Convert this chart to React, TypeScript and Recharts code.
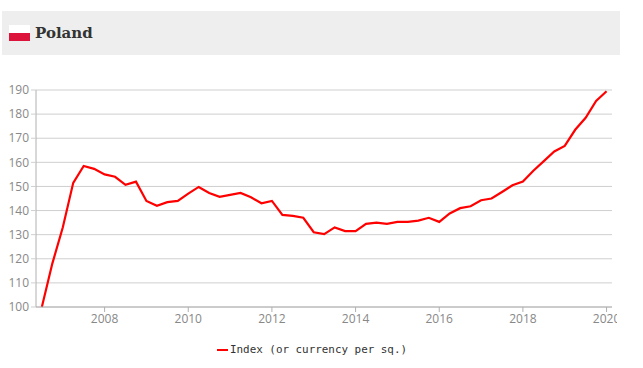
import { LineChart, Line, XAxis, YAxis, CartesianGrid, Legend } from 'recharts'

const seriesName = 'Index (or currency per sq.)'

// quarterly, 2006.5 to 2020.0
const quarters = [
  2006.5, 2006.75,
  2007, 2007.25, 2007.5, 2007.75,
  2008, 2008.25, 2008.5, 2008.75,
  2009, 2009.25, 2009.5, 2009.75,
  2010, 2010.25, 2010.5, 2010.75,
  2011, 2011.25, 2011.5, 2011.75,
  2012, 2012.25, 2012.5, 2012.75,
  2013, 2013.25, 2013.5, 2013.75,
  2014, 2014.25, 2014.5, 2014.75,
  2015, 2015.25, 2015.5, 2015.75,
  2016, 2016.25, 2016.5, 2016.75,
  2017, 2017.25, 2017.5, 2017.75,
  2018, 2018.25, 2018.5, 2018.75,
  2019, 2019.25, 2019.5, 2019.75,
  2020,
]

const indexValues = [
  100, 118,
  133, 151.5, 158.5, 157.3,
  155, 154, 150.7, 152,
  144, 142, 143.5, 144,
  147, 149.8, 147.3, 145.7,
  146.5, 147.3, 145.5, 143,
  144, 138.2, 137.8, 137,
  131, 130.2, 133, 131.5,
  131.5, 134.5, 135, 134.5,
  135.3, 135.3, 135.8, 137,
  135.3, 138.8, 141, 141.8,
  144.3, 145, 147.7, 150.5,
  152, 156.5, 160.5, 164.5,
  166.8, 173.5, 178.5, 185.5,
  189.5,
]

const xTicks = [2008, 2010, 2012, 2014, 2016, 2018, 2020]
const yTicks = [100, 110, 120, 130, 140, 150, 160, 170, 180, 190]

const data = quarters.map((t, i) => ({ t, index: indexValues[i] }))

const tickStyle = { fill: '#888', fontSize: 12, fontFamily: 'Open Sans' }

function LegendRow() {
  return (
    <div style={{ display: 'flex', alignItems: 'center', whiteSpace: 'nowrap' }}>
      <span style={{ width: 11, height: 2, background: '#ff0000', display: 'inline-block', marginRight: 2 }} />
      <span style={{ fontFamily: 'DejaVu Sans Mono', fontSize: 10.9, color: '#333' }}>{seriesName}</span>
    </div>
  )
}

export default function App() {
  return (
    <div style={{ position: 'absolute', left: 0, top: 0, width: 643, height: 368, background: '#fff' }}>
      <div style={{ position: 'absolute', left: 2, top: 11, width: 618, height: 44, background: '#eeeeee' }} />
      <div style={{ position: 'absolute', left: 9, top: 25, width: 21, height: 8, background: '#ffffff' }} />
      <div style={{ position: 'absolute', left: 9, top: 33, width: 21, height: 8, background: '#dc143c' }} />
      <div style={{ position: 'absolute', left: 35, top: 24, fontFamily: 'DejaVu Serif', fontWeight: 'bold', fontSize: 15, color: '#333' }}>
        Poland
      </div>
      <div style={{ position: 'absolute', left: 0, top: 0 }}>
        <LineChart width={617} height={368} data={data} margin={{ top: 90, right: 5, bottom: 23, left: 0 }}>
          <CartesianGrid vertical={false} stroke="#cfcfcf" syncWithTicks />
          <XAxis
            dataKey="t"
            type="number"
            domain={[2006.36, 2020.13]}
            ticks={xTicks}
            height={25}
            interval={0}
            tick={tickStyle}
            axisLine={{ stroke: '#b0b0b0' }}
            tickLine={{ stroke: '#b0b0b0' }}
            tickSize={5}
          />
          <YAxis
            type="number"
            domain={[100, 190]}
            ticks={yTicks}
            width={36}
            interval={0}
            tick={tickStyle}
            axisLine={{ stroke: '#b0b0b0' }}
            tickLine={{ stroke: '#cfcfcf' }}
            tickSize={5}
          />
          <Legend
            content={() => <LegendRow />}
            height={0}
            wrapperStyle={{ left: 217, top: 343, bottom: 'auto', width: 'auto' }}
          />
          <Line
            dataKey="index"
            name={seriesName}
            type="linear"
            stroke="#ff0000"
            strokeWidth={2.2}
            dot={false}
            isAnimationActive={false}
          />
        </LineChart>
      </div>
    </div>
  )
}
